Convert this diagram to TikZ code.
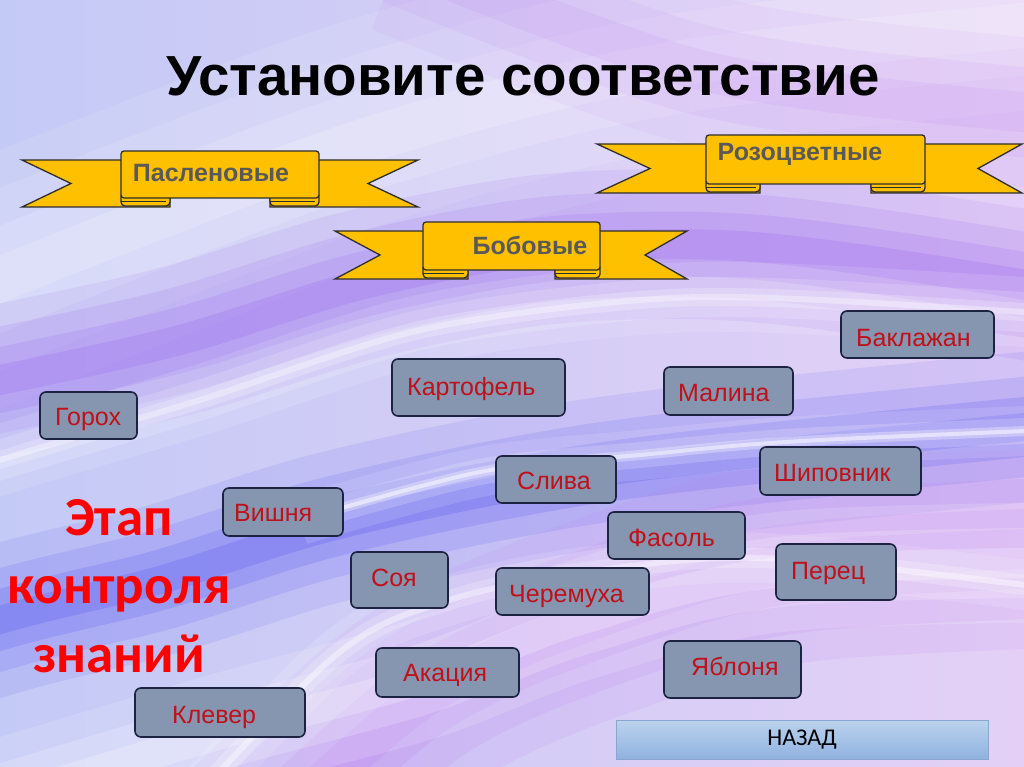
\documentclass[tikz,border=0pt]{standalone}
\usepackage{fontspec}
\setmainfont{Liberation Sans}
\newfontfamily\calib{Carlito}

\definecolor{ribfill}{HTML}{FFC000}
\definecolor{ribline}{HTML}{2E2E2E}
\definecolor{ribtext}{HTML}{595959}
\definecolor{boxfill}{HTML}{8696B0}
\definecolor{boxline}{HTML}{1C2340}
\definecolor{boxtext}{HTML}{C0101A}
\definecolor{stagered}{HTML}{FF0000}
\definecolor{bgleft}{HTML}{C4CAF6}
\definecolor{bgright}{HTML}{E4D0F6}
\definecolor{bandpurple}{HTML}{9C68EE}
\definecolor{bandblue}{HTML}{5E5EF0}
\definecolor{bandpink}{HTML}{C07EF2}
\definecolor{backtop}{HTML}{BCD2EE}
\definecolor{backbot}{HTML}{90B2E0}
\definecolor{backline}{HTML}{88A6D0}

\tikzset{
  box/.style={fill=boxfill, draw=boxline, line width=1.6pt, rounded corners=6pt},
  boxtxt/.style={text=boxtext, font=\fontsize{25}{29}\selectfont, inner sep=0pt, anchor=base west},
  rib/.style={fill=ribfill, draw=ribline, line width=1.3pt, line join=miter},
  ribtxt/.style={text=ribtext, font=\bfseries\fontsize{25}{29}\selectfont, inner sep=0pt},
  stagetxt/.style={text=stagered, font=\calib\bfseries\fontsize{55}{66}\selectfont, inner sep=0pt, anchor=base},
  softline/.style={line cap=butt, line join=round},
}

% #1 L, #2 Lnotch, #3 A, #4 B, #5 Rnotch, #6 R, #7 band top, #8 band bottom, #9 curl width
\newcommand\myribbon[9]{%
  \pgfmathsetmacro\rbTt{#7+9}%
  \pgfmathsetmacro\rbBt{#8+9}%
  \pgfmathsetmacro\rbMid{(#7+#8)/2+9}%
  \draw[rib] (#1,\rbTt) -- (#3+#9,\rbTt) -- (#3+#9,\rbBt) -- (#1,\rbBt) -- (#2,\rbMid) -- cycle;
  \draw[rib] (#6,\rbTt) -- (#4-#9,\rbTt) -- (#4-#9,\rbBt) -- (#6,\rbBt) -- (#5,\rbMid) -- cycle;
  \draw[rib, rounded corners=4pt] (#3,#8-6) rectangle (#3+#9,\rbBt-1);
  \draw[rib, rounded corners=4pt] (#4-#9,#8-6) rectangle (#4,\rbBt-1);
  \draw[rib, rounded corners=3pt] (#3,#7) rectangle (#4,#8);
  \draw[ribline, line width=0.9pt] (#3,#8+3.5) -- (#3+#9-4,#8+3.5);
  \draw[ribline, line width=0.9pt] (#4-#9,#8+3.5) -- (#4-4,#8+3.5);
}

% #1 name, #2 x1, #3 y1, #4 x2, #5 y2, #6 text x, #7 text centre y, #8 text
\newcommand\plant[8]{%
  \draw[box] (#2,#3) rectangle (#4,#5);
  \node[boxtxt] (#1) at (#6,#7+9) {#8};
}

\begin{document}
\begin{tikzpicture}[x=1pt,y=-1pt]
\useasboundingbox (0,0) rectangle (1024,767);
\begin{scope}
\clip (0,0) rectangle (1024,767);
% background
\shade[left color=bgleft, right color=bgright] (0,0) rectangle (1024,767);
% pale top middle
\foreach \ww/\oo in {240/0.10,170/0.12,100/0.15,45/0.18}
  \draw[white, softline, line width=\ww pt, opacity=\oo] plot[smooth] coordinates {(-200,360) (150,220) (400,130) (700,60) (1300,0)};
% upper purple band
\foreach \ww/\oo in {150/0.12,105/0.15,65/0.19,30/0.24}
  \draw[bandpurple, softline, line width=\ww pt, opacity=\oo] plot[smooth] coordinates {(-250,430) (0,380) (180,340) (360,285) (540,250) (720,245) (900,265) (1300,330)};
% right lavender top
\foreach \ww/\oo in {150/0.08,90/0.10,40/0.12}
  \draw[bandpink, softline, line width=\ww pt, opacity=\oo] plot[smooth] coordinates {(400,-40) (700,70) (1000,110) (1300,130)};
% blue band lower left
\foreach \ww/\oo in {150/0.12,100/0.16,60/0.22,28/0.28}
  \draw[bandblue, softline, line width=\ww pt, opacity=\oo] plot[smooth] coordinates {(-250,700) (0,620) (160,580) (320,530) (500,490) (700,460) (1300,400)};
% white streak across middle
\foreach \ww/\oo in {70/0.12,40/0.16,18/0.22,6/0.35}
  \draw[white, softline, line width=\ww pt, opacity=\oo] plot[smooth] coordinates {(-250,540) (0,460) (200,400) (420,330) (640,300) (820,300) (1300,330)};
% lower right pink purple
\foreach \ww/\oo in {200/0.12,140/0.14,80/0.18,40/0.22}
  \draw[bandpink, softline, line width=\ww pt, opacity=\oo] plot[smooth] coordinates {(200,900) (420,700) (620,610) (820,560) (1300,540)};
% streak near right middle
\foreach \ww/\oo in {50/0.12,26/0.18,10/0.3,4/0.5}
  \draw[white, softline, line width=\ww pt, opacity=\oo] plot[smooth] coordinates {(300,520) (480,472) (640,455) (820,440) (1300,420)};
% bottom light
\foreach \ww/\oo in {120/0.14,70/0.18,30/0.22}
  \draw[white, softline, line width=\ww pt, opacity=\oo] plot[smooth] coordinates {(-200,860) (200,740) (420,680) (580,620) (800,570) (1300,560)};
\foreach \ww/\oo in {50/0.12,20/0.2,6/0.4}
  \draw[white, softline, line width=\ww pt, opacity=\oo] plot[smooth] coordinates {(100,900) (330,660) (450,600) (600,570) (800,560) (1300,620)};
\end{scope}

% title
\node[font=\bfseries\fontsize{56.5}{64}\selectfont, inner sep=0pt, anchor=base] (title) at (523,96) {Установите соответствие};

% ribbons
\myribbon{22}{71}{121}{319}{368}{418}{151}{198}{49}
\node[ribtxt] (rib1) at (211,173) {Пасленовые};
\myribbon{597}{650}{706}{925}{978}{1022}{135}{184}{54}
\node[ribtxt] (rib2) at (800,154) {Розоцветные};
\myribbon{335}{380}{423}{600}{645}{687}{222}{270}{45}
\node[ribtxt] (rib3) at (530,245) {Бобовые};

% plant boxes
\plant{gorokh}{40}{392}{137}{439}{55}{416}{Горох}
\plant{kartofel}{392}{359}{565}{416}{407}{386}{Картофель}
\plant{malina}{664}{367}{793}{415}{678}{392}{Малина}
\plant{baklazhan}{841}{311}{994}{358}{856}{337}{Баклажан}
\plant{klever}{135}{688}{305}{737}{172}{714}{Клевер}
\plant{sliva}{496}{456}{616}{503}{517}{480}{Слива}
\plant{fasol}{608}{512}{745}{559}{628}{537}{Фасоль}
\plant{cheremukha}{496}{568}{649}{615}{509}{593}{Черемуха}
\plant{vishnya}{223}{488}{343}{536}{234}{512}{Вишня}
\plant{soya}{351}{552}{448}{608}{371}{577}{Соя}
\plant{akatsiya}{376}{648}{519}{697}{403}{672}{Акация}
\plant{shipovnik}{760}{447}{921}{495}{774}{472}{Шиповник}
\plant{perets}{776}{544}{896}{600}{791}{570}{Перец}
\plant{yablonya}{664}{641}{801}{698}{691}{666}{Яблоня}

% stage text
\node[stagetxt] (stage1) at (119,535) {Этап};
\node[stagetxt] (stage2) at (119,603) {контроля};
\node[stagetxt] (stage3) at (119,672) {знаний};

% back button
\node[top color=backtop, bottom color=backbot, draw=backline, line width=0.8pt,
      minimum width=372pt, minimum height=39pt, inner sep=0pt,
      font=\calib\fontsize{24}{28}\selectfont] (back) at (802,739.5) {НАЗАД};
\end{tikzpicture}
\end{document}
